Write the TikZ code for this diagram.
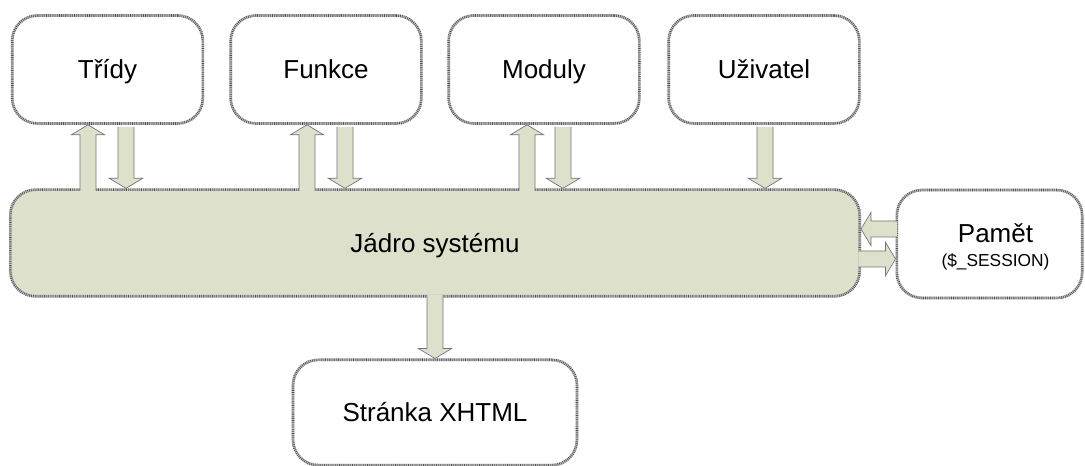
\documentclass[tikz,border=0pt]{standalone}
\usepackage{fontspec}
\setmainfont{Liberation Sans}
\usetikzlibrary{calc}
\definecolor{corefill}{RGB}{221,225,204}
\definecolor{ropedark}{RGB}{85,85,85}
\definecolor{ropelight}{RGB}{190,190,190}
\definecolor{arrowline}{RGB}{115,115,115}
\tikzset{
  % twisted-cord outline: light band with fine dark cross strokes
  rope/.style={draw=ropelight, line width=2pt, rounded corners=19pt,
    postaction={draw=ropedark, line width=2pt, rounded corners=19pt,
      dash pattern=on 0.5pt off 0.9pt}},
  boxbase/.style={rope, fill=white, minimum width=143pt, minimum height=81pt,
    inner sep=0pt, font=\fontsize{19.5}{23}\selectfont},
  oneline/.style={text height=14pt, text depth=0pt},
  box/.style={boxbase, oneline},
  % block arrow: shaft half width 6pt, head half width 12.5pt, head length 7.5pt
  fatpath/.style={to path={
    let \p1=(\tikztostart), \p2=(\tikztotarget),
        \n1={atan2(\y2-\y1,\x2-\x1)},
        \n2={veclen(\x2-\x1,\y2-\y1)-7.5pt} in
    ($(\p1)+(\n1+90:6pt)$) -- ++(\n1:\n2) -- ++(\n1+90:6.5pt) -- (\p2)
    -- ($(\p1)+(\n1:\n2)+(\n1-90:12.5pt)$) -- ++(\n1+90:6.5pt)
    -- ($(\p1)+(\n1-90:6pt)$)}},
  fat/.style={fatpath, fill=corefill, draw=arrowline, line width=0.5pt}
}
\begin{document}
\begin{tikzpicture}[x=0.75pt, y=-0.75pt]
\useasboundingbox (0,0) rectangle (1085,466);

% modules around the core
\node[box] (tridy)    at (107.5,69.5) {Třídy};
\node[box] (funkce)   at (326,69.5)   {Funkce};
\node[box] (moduly)   at (544,69.5)   {Moduly};
\node[box] (uzivatel) at (764,69.5)   {Uživatel};

\node[rope, oneline, fill=corefill, minimum width=637pt, minimum height=80pt,
      inner sep=0pt, font=\fontsize{19.5}{23}\selectfont]
      (core) at (435,243) {Jádro systému};

\node[boxbase, minimum width=139pt, align=center] (pamet) at (989.5,244)
  {\hspace*{9pt}\raisebox{0pt}[19pt][0pt]{Pamět}\\[-5pt]%
   \hspace*{9pt}\raisebox{0pt}[10pt][2.5pt]{\fontsize{13}{15}\selectfont(\$\_SESSION)}};

\node[box, minimum width=213pt, minimum height=79pt] (xhtml) at (435,412.5)
  {Stránka XHTML};

% arrow columns and rows
\coordinate (a1) at (88,0);
\coordinate (b1) at (126,0);
\coordinate (a2) at (307,0);
\coordinate (b2) at (345,0);
\coordinate (a3) at (527,0);
\coordinate (b3) at (563,0);
\coordinate (b4) at (765,0);
\coordinate (b5) at (435,0);
\coordinate (s1) at (0,229);
\coordinate (s2) at (0,259);

% upward arrows: core -> module
\draw[fat] ([yshift=-2pt]core.north -| a1) to (tridy.south -| a1);
\draw[fat] ([yshift=-2pt]core.north -| a2) to (funkce.south -| a2);
\draw[fat] ([yshift=-2pt]core.north -| a3) to (moduly.south -| a3);

% downward arrows: module -> core
\draw[fat] ([yshift=-1.5pt]tridy.south -| b1) to (core.north -| b1);
\draw[fat] ([yshift=-1.5pt]funkce.south -| b2) to (core.north -| b2);
\draw[fat] ([yshift=-1.5pt]moduly.south -| b3) to (core.north -| b3);
\draw[fat] ([yshift=-1.5pt]uzivatel.south -| b4) to (core.north -| b4);

% output page
\draw[fat] ([yshift=2pt]core.south -| b5) to (xhtml.north -| b5);

% session storage
\draw[fat] ([xshift=1pt]pamet.west |- s1) to (core.east |- s1);
\draw[fat] ([xshift=-2pt]core.east |- s2) to (pamet.west |- s2);
\end{tikzpicture}
\end{document}
